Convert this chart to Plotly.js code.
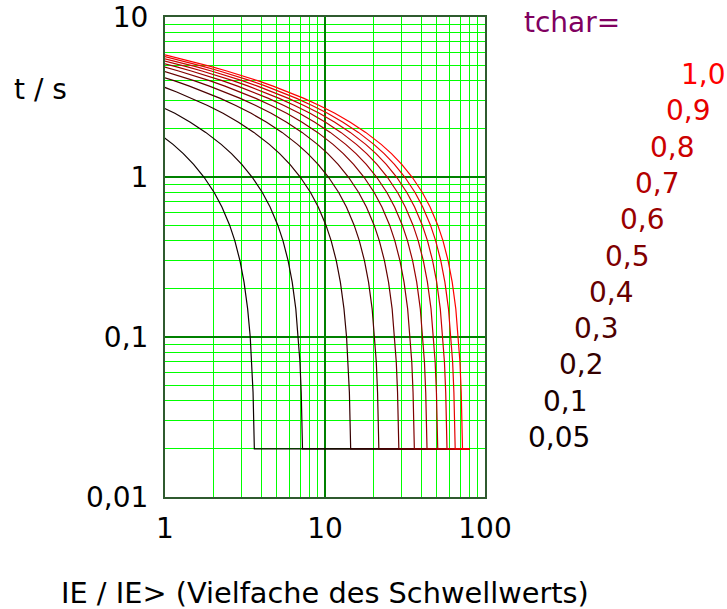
<!DOCTYPE html>
<html><head><meta charset="utf-8">
<script src="https://cdn.plot.ly/plotly-3.0.1.min.js"></script>
<style>html,body{margin:0;padding:0;background:#fff}#chart{width:727px;height:609px}</style>
</head><body><div id="chart"></div>
<script>
// Characteristic multipliers (tchar) and their labels
const tchar = [0.05, 0.1, 0.2, 0.3, 0.4, 0.5, 0.6, 0.7, 0.8, 0.9, 1.0];
const tcharLabels = ['0,05', '0,1', '0,2', '0,3', '0,4', '0,5', '0,6', '0,7', '0,8', '0,9', '1,0'];

// Curve for tchar = 1,0: multiple of threshold vs trip time (s).
// The other curves are the same curve shifted along the x axis by tchar.
const baseRatio = [1, 1.2488, 1.5596, 1.9477, 2.4324, 3.0377, 3.7937, 4.7377, 5.9167, 7.3891,
  9.2278, 11.524, 14.392, 17.973, 22.447, 26.03, 30.187, 35.01, 40.60, 45.37,
  50.70, 54.60, 58.80, 62.38, 65.70, 68.19, 69.72, 71.02, 72.35];
const baseTime = [5.8, 5.5, 5.2, 4.9, 4.6, 4.3, 4.0, 3.7, 3.4, 3.1,
  2.8, 2.5, 2.2, 1.9, 1.6, 1.4, 1.2, 1.0, 0.8, 0.65,
  0.5, 0.4, 0.3, 0.22, 0.15, 0.1, 0.07, 0.045, 0.02];
// Minimum-time plateau
const plateauEnd = 80;
const plateauTime = 0.02;

// Axis ticks
const xTickVals = [1, 10, 100];
const xTickText = ['1', '10', '100'];
const yTickVals = [0.01, 0.1, 1, 10];
const yTickText = ['0,01', '0,1', '1', '10'];

function colorFor(k) { return 'rgb(' + Math.round(255 * k) + ',0,0)'; }

const traces = tchar.map(function (k) {
  const xs = baseRatio.map(function (r) { return r * k; });
  const ys = baseTime.slice();
  xs.push(plateauEnd); ys.push(plateauTime);
  return { type: 'scatter', mode: 'lines', x: xs, y: ys,
    line: { color: colorFor(k), width: 1.2 }, hoverinfo: 'skip' };
});

// plot area in pixels
const L = 165, R = 485, T = 17, B = 497;
function px(x) { return (x - L) / (R - L); }
function py(y) { return (B - y) / (B - T); }

const annotations = [];
tcharLabels.forEach(function (lab, i) {
  annotations.push({ xref: 'paper', yref: 'paper', x: px(526 + i * 15.3), y: py(437.5 - i * 36.3),
    xanchor: 'left', yanchor: 'middle', showarrow: false, text: lab,
    font: { family: 'DejaVu Sans', size: 28, color: colorFor(tchar[i]) } });
});
annotations.push({ xref: 'paper', yref: 'paper', x: px(522), y: py(23), xanchor: 'left', yanchor: 'middle',
  showarrow: false, text: 'tchar=', font: { family: 'DejaVu Sans', size: 28, color: 'rgb(128,0,96)' } });
annotations.push({ xref: 'paper', yref: 'paper', x: px(12), y: py(89), xanchor: 'left', yanchor: 'middle',
  showarrow: false, text: 't / s', font: { family: 'DejaVu Sans', size: 28, color: 'black' } });
annotations.push({ xref: 'paper', yref: 'paper', x: px(324.5), y: py(592.5), xanchor: 'center', yanchor: 'middle',
  showarrow: false, text: 'IE / IE&gt; (Vielfache des Schwellwerts)', font: { family: 'DejaVu Sans', size: 28.8, color: 'black' } });

const axisCommon = {
  type: 'log', showgrid: true, gridcolor: '#008000', gridwidth: 1.5,
  showline: true, linecolor: '#2f5a2f', linewidth: 2, mirror: true,
  zeroline: false, ticks: '', fixedrange: true,
  tickfont: { family: 'DejaVu Sans', size: 28, color: 'black' },
  minor: { dtick: 'D1', showgrid: true, gridcolor: '#00ff00', gridwidth: 1, ticks: '' }
};

const layout = {
  width: 727, height: 609,
  margin: { l: L, r: 727 - R, t: T, b: 609 - B, pad: 0 },
  paper_bgcolor: 'white', plot_bgcolor: 'white', showlegend: false,
  font: { family: 'DejaVu Sans', size: 28, color: 'black' },
  xaxis: Object.assign({}, axisCommon, { range: [0, 2], tickmode: 'array', tickvals: xTickVals, ticktext: xTickText,
    ticklabelstandoff: 5 }),
  yaxis: Object.assign({}, axisCommon, { range: [-2, 1], tickmode: 'array', tickvals: yTickVals, ticktext: yTickText,
    ticklabelstandoff: 9 }),
  annotations: annotations
};

Plotly.newPlot('chart', traces, layout, { staticPlot: true, displayModeBar: false });
</script>
</body></html>
